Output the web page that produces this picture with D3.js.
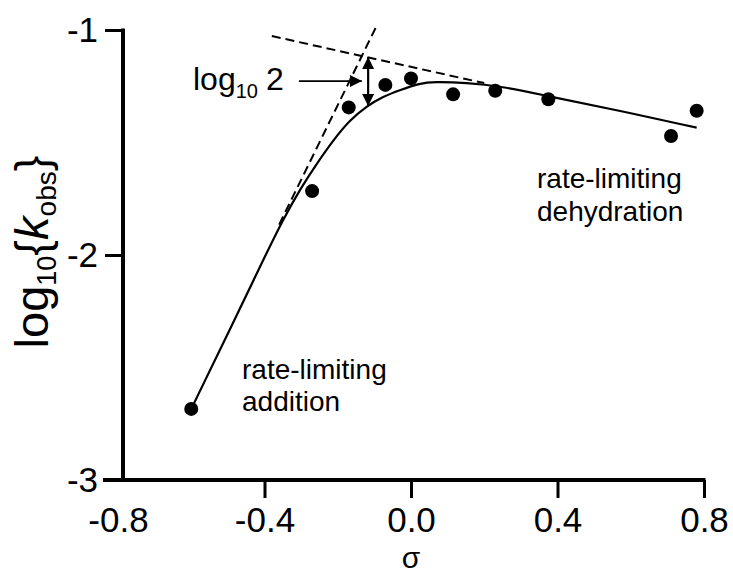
<!DOCTYPE html>
<html>
<head>
<meta charset="utf-8">
<script src="https://cdn.jsdelivr.net/npm/d3@7"></script>
<style>
  html, body { margin: 0; padding: 0; background: #fff; }
  svg { display: block; font-family: "Liberation Sans", Arial, Helvetica, sans-serif; }
</style>
</head>
<body>
<svg id="chart" width="733" height="574"></svg>
<script>
// Hammett substituent constants and observed rate constants
const sigma = [-0.60, -0.27, -0.17, -0.07, 0.00, 0.115, 0.23, 0.375, 0.71, 0.78];
const logK  = [-2.684, -1.716, -1.344, -1.244, -1.215, -1.286, -1.27, -1.308, -1.471, -1.359];

// Fitted curve for the two-step mechanism
const fitSigma = [-0.60, -0.50, -0.40, -0.35, -0.30, -0.257, -0.212, -0.167, -0.121, -0.076, -0.030, 0.025, 0.06, 0.152, 0.243, 0.38, 0.562, 0.78];
const fitLogK  = [-2.684, -2.35, -2.01, -1.844, -1.70, -1.593, -1.489, -1.40, -1.338, -1.296, -1.267, -1.237, -1.23, -1.234, -1.249, -1.296, -1.356, -1.434];

// Limiting slopes (dashed asymptotes)
const steepSigma = [-0.36, -0.094];
const steepLogK  = [-1.865, -0.982];
const shallowSigma = [-0.38, 0.20];
const shallowLogK  = [-1.027, -1.236];

// Axis ticks
const xTicks = [-0.8, -0.4, 0.0, 0.4, 0.8];
const yTicks = [-1, -2, -3];

const svg = d3.select("#chart");
const x = d3.scaleLinear().domain([-0.8, 0.8]).range([118, 704]);
const y = d3.scaleLinear().domain([-3, -1]).range([480, 30]);
const yAxisX = 123;

// Axes
const xAxis = svg.append("g")
  .attr("transform", `translate(0,${y(-3)})`)
  .call(d3.axisBottom(x).tickValues(xTicks).tickSize(18).tickSizeOuter(0)
    .tickFormat(d => d.toFixed(1)));
xAxis.select(".domain").remove();
xAxis.selectAll(".tick line").attr("stroke", "#000").attr("stroke-width", 3)
  .filter(d => d === -0.8).remove();
xAxis.selectAll(".tick text")
  .attr("font-size", 35).attr("font-family", null).attr("fill", "#000")
  .attr("y", 0).attr("dy", null).attr("transform", "translate(0,52)");

const yAxis = svg.append("g")
  .attr("transform", `translate(${yAxisX},0)`)
  .call(d3.axisLeft(y).tickValues(yTicks).tickSize(18).tickSizeOuter(0)
    .tickFormat(d => String(d)));
yAxis.select(".domain").remove();
yAxis.selectAll(".tick line").attr("stroke", "#000").attr("stroke-width", 3);
yAxis.selectAll(".tick text")
  .attr("font-size", 35).attr("font-family", null).attr("fill", "#000")
  .attr("x", -25).attr("dy", "0.34em");

// Axis lines
svg.append("line")
  .attr("x1", 103).attr("x2", x(0.8) + 1.5)
  .attr("y1", y(-3)).attr("y2", y(-3))
  .attr("stroke", "#000").attr("stroke-width", 4);
svg.append("line")
  .attr("x1", yAxisX).attr("x2", yAxisX)
  .attr("y1", y(-1) - 1.5).attr("y2", y(-3))
  .attr("stroke", "#000").attr("stroke-width", 4);

// Axis titles
svg.append("text")
  .attr("x", x(0)).attr("y", 567.5)
  .attr("text-anchor", "middle").attr("font-size", 30)
  .text("σ");

const yTitle = svg.append("text")
  .attr("transform", `translate(48,252) rotate(-90)`)
  .attr("text-anchor", "middle").attr("font-size", 47);
yTitle.append("tspan").text("log");
yTitle.append("tspan").attr("font-size", 27).attr("dy", 8).text("10");
yTitle.append("tspan").attr("dy", -8).text("{");
yTitle.append("tspan").attr("font-style", "italic").text("k");
yTitle.append("tspan").attr("font-size", 28).attr("dy", 8).text("obs");
yTitle.append("tspan").attr("dy", -8).text("}");

// Dashed asymptotes
const line = d3.line().x(d => x(d[0])).y(d => y(d[1]));
svg.append("path")
  .attr("d", line(d3.zip(steepSigma, steepLogK)))
  .attr("fill", "none").attr("stroke", "#000").attr("stroke-width", 2)
  .attr("stroke-dasharray", "9,5");
svg.append("path")
  .attr("d", line(d3.zip(shallowSigma, shallowLogK)))
  .attr("fill", "none").attr("stroke", "#000").attr("stroke-width", 2)
  .attr("stroke-dasharray", "9,5");

// Fitted curve
svg.append("path")
  .attr("d", d3.line().x(d => x(d[0])).y(d => y(d[1])).curve(d3.curveBasis)(d3.zip(fitSigma, fitLogK)))
  .attr("fill", "none").attr("stroke", "#000").attr("stroke-width", 2.2);

// Data points
svg.append("g").selectAll("circle")
  .data(d3.zip(sigma, logK))
  .join("circle")
  .attr("cx", d => x(d[0])).attr("cy", d => y(d[1]))
  .attr("r", 7).attr("fill", "#000");

// Arrow markers
const defs = svg.append("defs");
defs.append("marker")
  .attr("id", "head").attr("viewBox", "0 0 10 10")
  .attr("refX", 10).attr("refY", 5)
  .attr("markerWidth", 13).attr("markerHeight", 12)
  .attr("markerUnits", "userSpaceOnUse")
  .attr("orient", "auto-start-reverse")
  .append("path").attr("d", "M0,0 L10,5 L0,10 Z").attr("fill", "#000");

// log10 2 gap between asymptote intersection and curve
const gapSigma = -0.117;
const gapTop = -1.12, gapBottom = -1.338;
svg.append("line")
  .attr("x1", x(gapSigma)).attr("x2", x(gapSigma))
  .attr("y1", y(gapTop)).attr("y2", y(gapBottom))
  .attr("stroke", "#000").attr("stroke-width", 2.2)
  .attr("marker-start", "url(#head)").attr("marker-end", "url(#head)");

// Pointer from the annotation to the gap
const pointerY = -1.227;
svg.append("line")
  .attr("x1", x(-0.306)).attr("x2", x(-0.134))
  .attr("y1", y(pointerY)).attr("y2", y(pointerY))
  .attr("stroke", "#000").attr("stroke-width", 1.6)
  .attr("marker-end", "url(#head)");

const note = svg.append("text").attr("x", 193).attr("y", 90).attr("font-size", 32);
note.append("tspan").text("log");
note.append("tspan").attr("font-size", 20).attr("dy", 8).text("10");
note.append("tspan").attr("dy", -8).attr("dx", 8).text("2");

// Regime labels
const addLabel = svg.append("text").attr("font-size", 28);
addLabel.append("tspan").attr("x", 242).attr("y", 379).text("rate-limiting");
addLabel.append("tspan").attr("x", 242).attr("y", 411).text("addition");

const dehydLabel = svg.append("text").attr("font-size", 28);
dehydLabel.append("tspan").attr("x", 537).attr("y", 188).text("rate-limiting");
dehydLabel.append("tspan").attr("x", 537).attr("y", 221).text("dehydration");
</script>
</body>
</html>
